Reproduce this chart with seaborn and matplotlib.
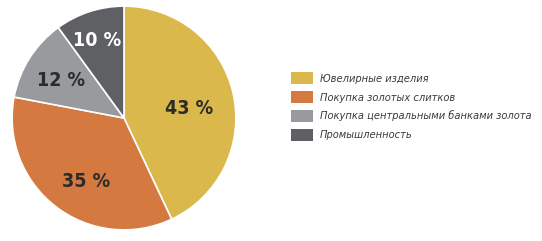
import numpy as np
import matplotlib
matplotlib.use("Agg")
import matplotlib.pyplot as plt
import seaborn as sns
from matplotlib.patches import Patch

# данные
categories = ["Ювелирные изделия", "Покупка золотых слитков",
              "Покупка центральными банками золота", "Промышленность"]
shares = [43, 35, 12, 10]
pct_labels = ["43 %", "35 %", "12 %", "10 %"]
colors = sns.color_palette(["#DBB84C", "#D47A40", "#989A9D", "#5E6064"])
label_colors = ["#2B2B2B", "#2B2B2B", "#2B2B2B", "#FFFFFF"]
# положение подписей: доля радиуса и сдвиг угла (град.)
label_radius = [0.59, 0.66, 0.66, 0.73]
label_shift = [-4.0, 6.5, 1.5, 1.0]

sns.set_style("white")
plt.rcParams["font.family"] = ["DejaVu Sans"]

fig = plt.figure(figsize=(5.42, 2.41), dpi=100)
ax = fig.add_axes([11 / 542, 10 / 241, 226 / 542, 226 / 241])

wedges, _ = ax.pie(shares, colors=colors, startangle=90, counterclock=False,
                   wedgeprops=dict(edgecolor="white", linewidth=1.2))
ax.set_xlim(-1.01, 1.01)
ax.set_ylim(-1.01, 1.01)
ax.set_aspect("equal")

for w, lab, c, r, s in zip(wedges, pct_labels, label_colors, label_radius, label_shift):
    ang = np.deg2rad((w.theta1 + w.theta2) / 2 + s)
    ax.text(r * np.cos(ang), r * np.sin(ang), lab, ha="center", va="center",
            fontsize=14, fontweight="bold", fontstretch="condensed", color=c)

handles = [Patch(facecolor=c, edgecolor="none") for c in colors]
fig.legend(handles, categories, loc="upper left", bbox_to_anchor=(281 / 542, 1 - 62 / 241),
           frameon=False, handlelength=2.0, handleheight=1.35,
           labelspacing=0.6, handletextpad=0.65,
           prop=dict(style="italic", size=7.9, stretch="condensed"),
           labelcolor="#3A3A3A")

fig.savefig("out.png", dpi=100, facecolor="white")
